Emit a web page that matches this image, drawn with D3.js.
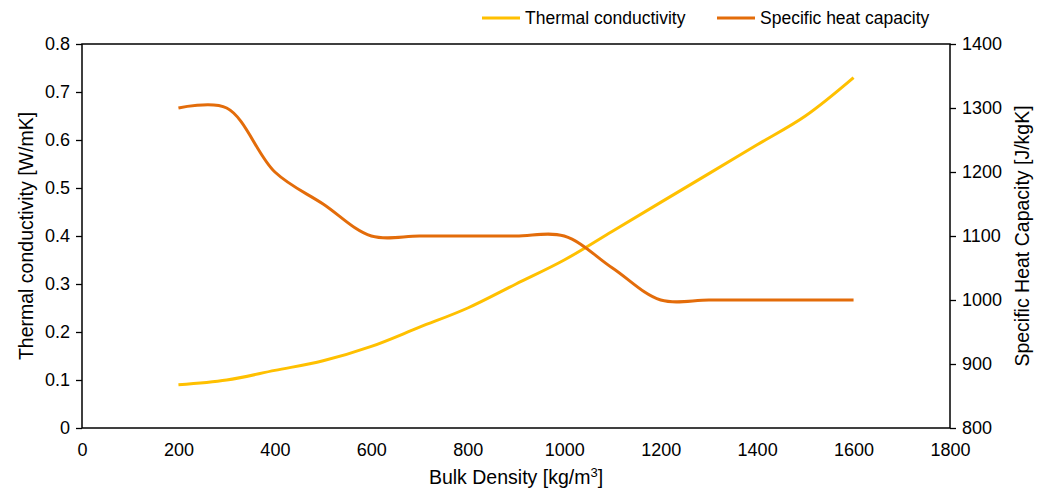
<!DOCTYPE html>
<html>
<head>
<meta charset="utf-8">
<script src="https://cdn.jsdelivr.net/npm/d3@7"></script>
<style>
  body { margin: 0; background: #fff; }
  text { font-family: 'Liberation Sans', Arial, sans-serif; fill: #000; }
</style>
</head>
<body>
<div class="chart"></div>
<script>
'use strict';

// Data
const density = [200, 300, 400, 500, 600, 700, 800, 900, 1000, 1100, 1200, 1300, 1400, 1500, 1600];
const conductivity = [0.09, 0.10, 0.12, 0.14, 0.17, 0.21, 0.25, 0.30, 0.35, 0.41, 0.47, 0.53, 0.59, 0.65, 0.73];
const heatCapacity = [1300, 1300, 1200, 1150, 1100, 1100, 1100, 1100, 1100, 1050, 1000, 1000, 1000, 1000, 1000];

const xTicks = [0, 200, 400, 600, 800, 1000, 1200, 1400, 1600, 1800];
const leftTicks = [0, 0.1, 0.2, 0.3, 0.4, 0.5, 0.6, 0.7, 0.8];
const rightTicks = [800, 900, 1000, 1100, 1200, 1300, 1400];

// Initialize
const w = 1045;
const h = 488;
const plotLeft = 82, plotRight = 950, plotTop = 44, plotBottom = 428;
const yellow = '#FFC000';
const orange = '#E36C0A';

const svg = d3.select('.chart')
              .append('svg')
              .attr('width', w)
              .attr('height', h);

// Scales
const xScale = d3.scaleLinear().domain([0, 1800]).range([plotLeft, plotRight]);
const yLeft = d3.scaleLinear().domain([0, 0.8]).range([plotBottom, plotTop]);
const yRight = d3.scaleLinear().domain([800, 1400]).range([plotBottom, plotTop]);

// Axes
const xAxis = d3.axisBottom(xScale).tickValues(xTicks).tickSize(0).tickPadding(15)
                .tickFormat(d3.format('d'));
const leftAxis = d3.axisLeft(yLeft).tickValues(leftTicks).tickSize(6).tickPadding(6)
                   .tickFormat(d => d === 0 ? '0' : d3.format('.1f')(d));
const rightAxis = d3.axisRight(yRight).tickValues(rightTicks).tickSize(6).tickPadding(6)
                    .tickFormat(d3.format('d'));

const styleAxis = g => {
  g.selectAll('text').style('font-size', '18px').style('font-family', "'Liberation Sans', Arial, sans-serif");
  g.selectAll('line').attr('stroke', '#000').attr('stroke-width', 1.3);
  g.select('.domain').remove();
};

svg.append('g')
  .attr('transform', `translate(0, ${plotBottom})`)
  .call(xAxis)
  .call(styleAxis);

svg.append('g')
  .attr('transform', `translate(${plotLeft}, 0)`)
  .call(leftAxis)
  .call(styleAxis);

svg.append('g')
  .attr('transform', `translate(${plotRight}, 0)`)
  .call(rightAxis)
  .call(styleAxis);

// Plot border
svg.append('rect')
  .attr('x', plotLeft)
  .attr('y', plotTop)
  .attr('width', plotRight - plotLeft)
  .attr('height', plotBottom - plotTop)
  .attr('fill', 'none')
  .attr('stroke', '#000')
  .attr('stroke-width', 1.5);

// Lines
const curve = d3.curveCatmullRom.alpha(0.5);

const lineCond = d3.line()
  .x((d, i) => xScale(density[i]))
  .y(d => yLeft(d))
  .curve(curve);

const lineHeat = d3.line()
  .x((d, i) => xScale(density[i]))
  .y(d => yRight(d))
  .curve(curve);

svg.append('path')
  .datum(conductivity)
  .attr('d', lineCond)
  .attr('fill', 'none')
  .attr('stroke', yellow)
  .attr('stroke-width', 3);

svg.append('path')
  .datum(heatCapacity)
  .attr('d', lineHeat)
  .attr('fill', 'none')
  .attr('stroke', orange)
  .attr('stroke-width', 3);

// Axis titles
const xTitle = svg.append('text')
  .attr('x', (plotLeft + plotRight) / 2)
  .attr('y', 484)
  .attr('text-anchor', 'middle')
  .style('font-size', '19.5px');
xTitle.append('tspan').text('Bulk Density [kg/m');
xTitle.append('tspan').attr('dy', -7).style('font-size', '13px').text('3');
xTitle.append('tspan').attr('dy', 7).text(']');

svg.append('text')
  .attr('transform', `translate(33, ${(plotTop + plotBottom) / 2}) rotate(-90)`)
  .attr('text-anchor', 'middle')
  .style('font-size', '19.5px')
  .text('Thermal conductivity [W/mK]');

svg.append('text')
  .attr('transform', `translate(1029, ${(plotTop + plotBottom) / 2}) rotate(-90)`)
  .attr('text-anchor', 'middle')
  .style('font-size', '19.5px')
  .text('Specific Heat Capacity [J/kgK]');

// Legend
const legend = [
  { label: 'Thermal conductivity', color: yellow, x: 482 },
  { label: 'Specific heat capacity', color: orange, x: 717 }
];

legend.forEach(item => {
  svg.append('line')
    .attr('x1', item.x).attr('x2', item.x + 38)
    .attr('y1', 18).attr('y2', 18)
    .attr('stroke', item.color)
    .attr('stroke-width', 3);
  svg.append('text')
    .attr('x', item.x + 43)
    .attr('y', 24)
    .style('font-size', '17.5px')
    .text(item.label);
});
</script>
</body>
</html>
